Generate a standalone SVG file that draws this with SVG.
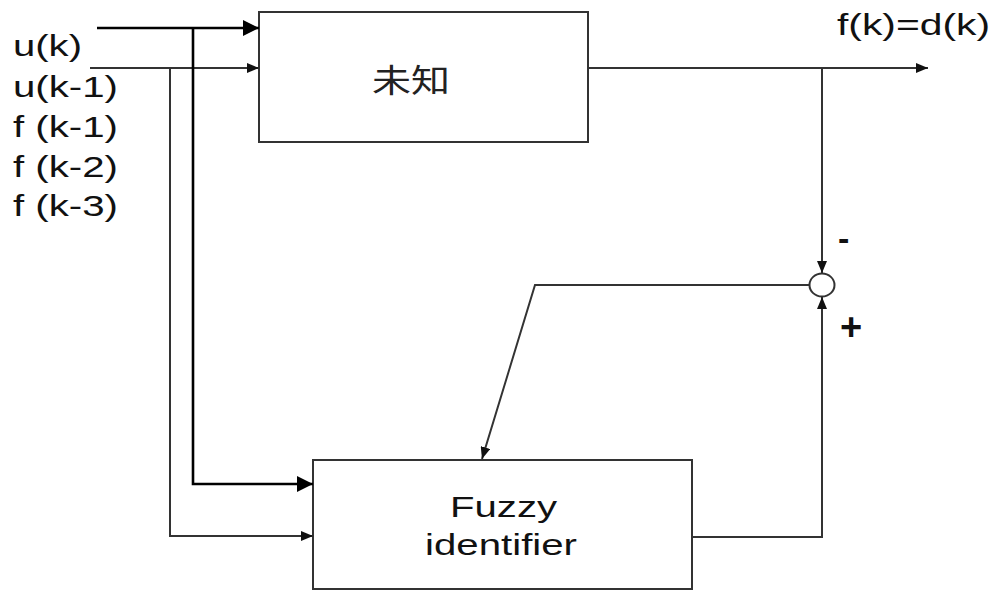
<svg xmlns="http://www.w3.org/2000/svg" width="996" height="590" viewBox="0 0 996 590">
<style>
.box{fill:#fff;stroke:#333;stroke-width:2}
.ln{fill:none;stroke:#333;stroke-width:2}
.tk{fill:none;stroke:#000;stroke-width:2.6}
.t{font-family:"Liberation Sans",Arial,sans-serif;font-size:30px;fill:#111}
.s{font-family:"Liberation Sans",Arial,sans-serif;font-weight:bold;fill:#111}
.c{font-family:"Noto Sans CJK SC","Liberation Sans",sans-serif;font-size:32px;fill:#222}
</style>
<defs>
<marker id="ah" viewBox="0 0 12 10" refX="12" refY="5" markerWidth="12" markerHeight="10" markerUnits="userSpaceOnUse" orient="auto"><path d="M0,0 L12,5 L0,10 Z" fill="#111"/></marker>
<marker id="ahb" viewBox="0 0 16 16" refX="16" refY="8" markerWidth="16" markerHeight="16" markerUnits="userSpaceOnUse" orient="auto"><path d="M0,0 L16,8 L0,16 Z" fill="#000"/></marker>
</defs>
<rect width="996" height="590" fill="#fff"/>
<g id="labels">
<text class="t" x="13" y="56" textLength="69" lengthAdjust="spacingAndGlyphs">u(k)</text>
<text class="t" x="13" y="97" textLength="105" lengthAdjust="spacingAndGlyphs">u(k-1)</text>
<text class="t" x="13" y="137" textLength="105" lengthAdjust="spacingAndGlyphs">f (k-1)</text>
<text class="t" x="13" y="177" textLength="105" lengthAdjust="spacingAndGlyphs">f (k-2)</text>
<text class="t" x="13" y="216" textLength="105" lengthAdjust="spacingAndGlyphs">f (k-3)</text>
<text class="t" x="837" y="35" textLength="153" lengthAdjust="spacingAndGlyphs">f(k)=d(k)</text>
<text class="s" x="838" y="250" font-size="34">-</text>
<text class="s" x="840" y="340" font-size="38">+</text>
</g>
<g id="unknown">
<rect class="box" x="259" y="12" width="329" height="130"/>
<text class="c" x="372" y="92" textLength="78" lengthAdjust="spacingAndGlyphs">未知</text>
</g>
<g id="fuzzy">
<rect class="box" x="313" y="460" width="379" height="129"/>
<text class="t" x="450" y="517" textLength="107" lengthAdjust="spacingAndGlyphs">Fuzzy</text>
<text class="t" x="425" y="555" textLength="152" lengthAdjust="spacingAndGlyphs">identifier</text>
</g>
<g id="sum">
<ellipse cx="822" cy="285" rx="12.5" ry="11.5" fill="#fff" stroke="#333" stroke-width="2"/>
</g>
<g id="connectors">
<line class="tk" x1="97" y1="28" x2="259" y2="28" marker-end="url(#ahb)"/>
<line class="ln" x1="90" y1="68" x2="259" y2="68" marker-end="url(#ah)"/>
<polyline class="tk" points="193,28 193,484 313,484" marker-end="url(#ahb)"/>
<polyline class="ln" points="170,68 170,536 313,536" marker-end="url(#ah)"/>
<line class="ln" x1="588" y1="68" x2="928" y2="68" marker-end="url(#ah)"/>
<line class="ln" x1="822" y1="68" x2="822" y2="273" marker-end="url(#ah)"/>
<polyline class="ln" points="692,537 822,537 822,297" marker-end="url(#ah)"/>
<polyline class="ln" points="809,285 535,285 482,459" marker-end="url(#ah)"/>
</g>
</svg>
